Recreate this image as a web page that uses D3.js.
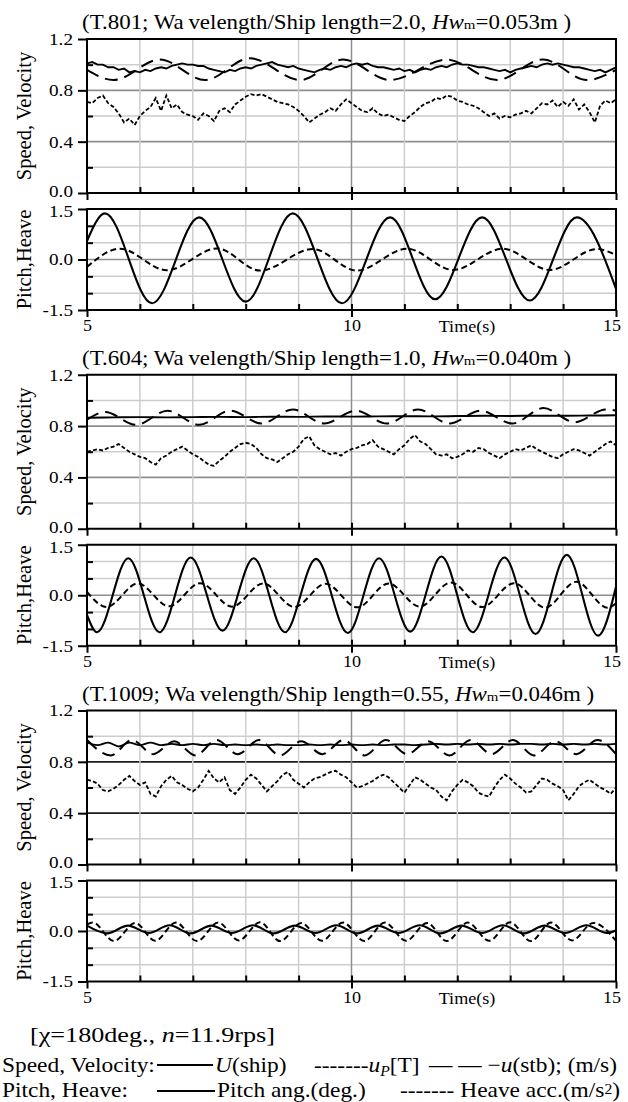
<!DOCTYPE html>
<html>
<head>
<meta charset="utf-8">
<script src="https://cdn.jsdelivr.net/npm/d3@7"></script>
<style>
  html, body { margin: 0; padding: 0; background: #fff; }
  svg { display: block; }
  text { font-family: "Liberation Serif", "Times New Roman", serif; fill: #000; }
</style>
</head>
<body>
<svg id="chart" width="628" height="1102"></svg>
<script>
// ---- Run identifiers shown in the panel headings ----
const titleIds = ["T.801", "T.604", "T.1009"];
const lengthRatios = ["2.0", "1.0", "0.55"];
const waveHeights = ["0.053", "0.040", "0.046"];

// ---- Axis ticks ----
const speedMajorTicks = [0.0, 0.4, 0.8, 1.2];
const speedMinorTicks = [0.2, 0.6, 1.0];
const pitchMajorTicks = [-1.5, 0.0, 1.5];
const pitchMinorTicks = [-1.0, -0.5, 0.5, 1.0];
const timeLabelTicks = [5, 10, 15];
const timeGridTicks = [6, 7, 8, 9, 10, 11, 12, 13, 14];

// ---- T.801 (wavelength/ship length = 2.0) ----
// sampled every 0.1 s from 5 s to 15 s
const t801_uShip = [
  1.01, 1.02, 1.00, 1.00, 0.98, 0.98, 0.96, 0.97, 0.94, 0.95,
  0.94, 0.96, 0.95, 0.97, 0.98, 0.97, 0.99, 1.00, 1.01, 1.00,
  1.00, 0.99, 0.99, 0.97, 0.96, 0.95, 0.94, 0.96, 0.95, 0.97,
  0.98, 0.97, 0.99, 1.00, 1.01, 1.02, 1.00, 0.99, 0.98, 0.99,
  0.97, 0.96, 0.95, 0.94, 0.96, 0.97, 0.96, 0.98, 0.99, 0.98,
  1.00, 1.01, 1.00, 1.01, 0.99, 0.98, 0.98, 0.97, 0.96, 0.97,
  0.95, 0.96, 0.94, 0.96, 0.97, 0.96, 0.98, 0.99, 0.98, 1.00,
  1.01, 1.00, 1.00, 0.99, 0.98, 0.98, 0.97, 0.96, 0.95, 0.96,
  0.94, 0.96, 0.97, 0.98, 0.99, 0.98, 1.00, 1.01, 1.00, 1.01,
  1.00, 0.99, 0.98, 0.98, 0.97, 0.96, 0.95, 0.96, 0.94, 0.96,
  0.98
];
const t801_uP = [
  0.71, 0.70, 0.74, 0.76, 0.70, 0.67, 0.62, 0.55, 0.58, 0.53,
  0.60, 0.64, 0.67, 0.74, 0.64, 0.76, 0.66, 0.69, 0.63, 0.61,
  0.60, 0.57, 0.62, 0.60, 0.56, 0.64, 0.66, 0.63, 0.69, 0.72,
  0.75, 0.77, 0.76, 0.77, 0.75, 0.73, 0.71, 0.70, 0.69, 0.67,
  0.64, 0.60, 0.55, 0.58, 0.61, 0.63, 0.66, 0.64, 0.69, 0.73,
  0.70, 0.67, 0.64, 0.63, 0.66, 0.62, 0.60, 0.61, 0.59, 0.57,
  0.56, 0.60, 0.63, 0.67, 0.70, 0.71, 0.74, 0.73, 0.76, 0.75,
  0.72, 0.71, 0.69, 0.68, 0.66, 0.63, 0.60, 0.62, 0.58, 0.60,
  0.59, 0.61, 0.62, 0.64, 0.62, 0.66, 0.70, 0.69, 0.72, 0.67,
  0.71, 0.68, 0.73, 0.65, 0.69, 0.63, 0.55, 0.68, 0.72, 0.70,
  0.73
];
const t801_uStbT = [5.0, 5.5, 6.38, 7.23, 8.08, 9.03, 9.84, 10.73, 11.8, 12.75, 13.62, 14.45, 15.0];
const t801_uStbV = [0.96, 0.88, 1.04, 0.88, 1.05, 0.88, 1.04, 0.88, 1.04, 0.88, 1.04, 0.88, 0.96];
const t801_pitchT = [5.0, 5.34, 6.23, 7.12, 8.0, 8.89, 9.82, 10.73, 11.58, 12.47, 13.37, 14.26, 15.0];
const t801_pitchV = [0.55, 1.37, -1.30, 1.25, -1.25, 1.37, -1.30, 1.25, -1.18, 1.25, -1.22, 1.25, -0.87];
const t801_heaveT = [5.0, 5.62, 6.51, 7.46, 8.27, 9.27, 10.1, 11.05, 11.92, 12.86, 13.75, 14.64, 15.0];
const t801_heaveV = [-0.22, 0.32, -0.32, 0.33, -0.33, 0.31, -0.33, 0.32, -0.31, 0.32, -0.31, 0.31, 0.13];

// ---- T.604 (wavelength/ship length = 1.0) ----
// ship speed sampled every 0.5 s
const t604_uShip = [
  0.865, 0.868, 0.870, 0.868, 0.870, 0.872, 0.870, 0.873, 0.872, 0.875,
  0.874, 0.876, 0.877, 0.876, 0.878, 0.880, 0.879, 0.881, 0.880, 0.882,
  0.884
];
const t604_uP = [
  0.60, 0.61, 0.62, 0.61, 0.63, 0.64, 0.66, 0.63, 0.60, 0.58,
  0.56, 0.55, 0.52, 0.50, 0.55, 0.57, 0.60, 0.62, 0.64, 0.61,
  0.58, 0.56, 0.53, 0.50, 0.49, 0.53, 0.56, 0.60, 0.63, 0.66,
  0.67, 0.66, 0.63, 0.58, 0.55, 0.54, 0.52, 0.55, 0.58, 0.60,
  0.64, 0.70, 0.72, 0.65, 0.62, 0.60, 0.58, 0.59, 0.57, 0.60,
  0.62, 0.63, 0.65, 0.66, 0.69, 0.64, 0.62, 0.60, 0.58, 0.62,
  0.65, 0.70, 0.73, 0.68, 0.66, 0.62, 0.58, 0.57, 0.58, 0.55,
  0.56, 0.58, 0.61, 0.60, 0.63, 0.62, 0.59, 0.57, 0.55, 0.58,
  0.60, 0.62, 0.61, 0.63, 0.65, 0.62, 0.60, 0.58, 0.56, 0.55,
  0.58, 0.60, 0.62, 0.61, 0.59, 0.57, 0.60, 0.63, 0.66, 0.68,
  0.65
];
const t604_uStbT = [5.0, 5.34, 5.93, 6.52, 7.12, 7.71, 8.30, 8.89, 9.48, 10.08, 10.67, 11.26, 11.85, 12.44, 13.04, 13.63, 14.22, 14.81, 15.0];
const t604_uStbV = [0.85, 0.91, 0.81, 0.92, 0.81, 0.92, 0.82, 0.93, 0.82, 0.92, 0.82, 0.93, 0.82, 0.92, 0.82, 0.94, 0.83, 0.93, 0.92];
const t604_pitchT = [5.0, 5.19, 5.78, 6.37, 6.96, 7.56, 8.15, 8.74, 9.33, 9.93, 10.52, 11.11, 11.70, 12.29, 12.89, 13.48, 14.07, 14.66, 15.0];
const t604_pitchV = [-0.58, -1.10, 1.10, -1.10, 1.12, -1.05, 1.10, -1.10, 1.08, -1.12, 1.10, -1.08, 1.15, -1.10, 1.12, -1.15, 1.20, -1.20, 0.25];
const t604_heaveT = [5.0, 5.37, 5.96, 6.55, 7.14, 7.74, 8.33, 8.92, 9.51, 10.11, 10.70, 11.29, 11.88, 12.47, 13.07, 13.66, 14.25, 14.84, 15.0];
const t604_heaveV = [0.10, -0.35, 0.35, -0.33, 0.36, -0.34, 0.35, -0.35, 0.34, -0.36, 0.35, -0.34, 0.38, -0.35, 0.36, -0.37, 0.40, -0.37, -0.24];

// ---- T.1009 (wavelength/ship length = 0.55) ----
// ship speed sampled every 0.2 s
const t1009_uShip = [
  0.950, 0.930, 0.950, 0.920, 0.950, 0.930, 0.950, 0.930, 0.940, 0.930,
  0.940, 0.930, 0.940, 0.930, 0.935, 0.930, 0.935, 0.930, 0.935, 0.930,
  0.930, 0.935, 0.930, 0.935, 0.930, 0.935, 0.930, 0.935, 0.930, 0.935,
  0.935, 0.930, 0.935, 0.940, 0.935, 0.940, 0.935, 0.940, 0.935, 0.940,
  0.935, 0.940, 0.940, 0.935, 0.940, 0.935, 0.940, 0.935, 0.940, 0.935,
  0.940
];
const t1009_uP = [
  0.66, 0.65, 0.63, 0.58, 0.57, 0.59, 0.62, 0.66, 0.69, 0.65,
  0.62, 0.64, 0.55, 0.53, 0.61, 0.66, 0.69, 0.64, 0.62, 0.59,
  0.57, 0.60, 0.66, 0.73, 0.67, 0.64, 0.68, 0.58, 0.55, 0.60,
  0.66, 0.70, 0.67, 0.62, 0.57, 0.61, 0.65, 0.70, 0.72, 0.66,
  0.63, 0.60, 0.64, 0.67, 0.68, 0.70, 0.72, 0.73, 0.70, 0.68,
  0.64, 0.60, 0.61, 0.63, 0.65, 0.68, 0.70, 0.68, 0.64, 0.60,
  0.56, 0.62, 0.68, 0.66, 0.63, 0.60, 0.58, 0.53, 0.50, 0.57,
  0.62, 0.66, 0.64, 0.61, 0.56, 0.54, 0.53, 0.60, 0.66, 0.70,
  0.67, 0.63, 0.60, 0.56, 0.57, 0.62, 0.67, 0.66, 0.63, 0.61,
  0.58, 0.50, 0.55, 0.61, 0.64, 0.66, 0.63, 0.60, 0.58, 0.55,
  0.60
];
const t1009_uStbT = [5.0, 5.45, 5.85, 6.25, 6.65, 7.05, 7.45, 7.85, 8.25, 8.65, 9.05, 9.45, 9.85, 10.25, 10.65, 11.05, 11.45, 11.85, 12.25, 12.65, 13.05, 13.45, 13.85, 14.25, 14.65, 15.0];
const t1009_uStbV = [0.97, 0.85, 0.97, 0.86, 0.96, 0.85, 0.97, 0.86, 0.97, 0.85, 0.96, 0.86, 0.97, 0.85, 0.97, 0.86, 0.96, 0.85, 0.97, 0.86, 0.97, 0.85, 0.96, 0.86, 0.97, 0.86];
const t1009_pitchT = [5.0, 5.38, 5.775, 6.17, 6.56, 6.96, 7.35, 7.74, 8.14, 8.53, 8.93, 9.32, 9.71, 10.11, 10.50, 10.89, 11.29, 11.68, 12.08, 12.47, 12.86, 13.26, 13.65, 14.04, 14.44, 14.83, 15.0];
const t1009_pitchV = [0.16, -0.07, 0.16, -0.06, 0.17, -0.07, 0.16, -0.06, 0.17, -0.07, 0.16, -0.06, 0.17, -0.07, 0.16, -0.06, 0.17, -0.07, 0.16, -0.06, 0.17, -0.07, 0.16, -0.06, 0.17, -0.06, 0.02];
const t1009_heaveT = [5.0, 5.11, 5.51, 5.91, 6.29, 6.68, 7.08, 7.48, 7.87, 8.27, 8.65, 9.05, 9.44, 9.84, 10.24, 10.63, 11.03, 11.43, 11.8, 12.2, 12.6, 13.0, 13.39, 13.77, 14.17, 14.57, 15.0];
const t1009_heaveV = [0.20, 0.25, -0.30, 0.24, -0.29, 0.25, -0.30, 0.25, -0.28, 0.26, -0.30, 0.24, -0.29, 0.25, -0.30, 0.25, -0.29, 0.24, -0.30, 0.25, -0.29, 0.26, -0.30, 0.25, -0.28, 0.24, -0.29];

// ---- Sample time grids ----
const grid01 = d3.range(101).map(i => 5 + i / 10);
const grid02 = d3.range(51).map(i => 5 + i / 5);
const grid05 = d3.range(21).map(i => 5 + i / 2);
const zip = (ts, vs) => ts.map((t, i) => [t, vs[i]]);

const panels = [
  { uShip: zip(grid01, t801_uShip), uShipCurve: d3.curveLinear, uP: zip(grid01, t801_uP),
    uStb: zip(t801_uStbT, t801_uStbV), pitch: zip(t801_pitchT, t801_pitchV), heave: zip(t801_heaveT, t801_heaveV),
    majorColor: "#8e8e8e" },
  { uShip: zip(grid05, t604_uShip), uShipCurve: d3.curveMonotoneX, uP: zip(grid01, t604_uP),
    uStb: zip(t604_uStbT, t604_uStbV), pitch: zip(t604_pitchT, t604_pitchV), heave: zip(t604_heaveT, t604_heaveV),
    majorColor: "#8e8e8e" },
  { uShip: zip(grid02, t1009_uShip), uShipCurve: d3.curveMonotoneX, uP: zip(grid01, t1009_uP),
    uStb: zip(t1009_uStbT, t1009_uStbV), pitch: zip(t1009_pitchT, t1009_pitchV), heave: zip(t1009_heaveT, t1009_heaveV),
    majorColor: "#1a1a1a" }
];

// ---- Layout ----
const svg = d3.select("#chart");
const X0 = 87, X1 = 616;
const FIRST_TOP = 39, PANEL_STEP = 335.75;
const SPEED_H = 154, GAP = 16, PITCH_H = 101;
const LIGHT = "#cdcdcd";
const TEXT_STRETCH = 1.13;   // the typeface is set slightly wide throughout
const x = d3.scaleLinear().domain([5, 15]).range([X0, X1]);
const fmt = d => d.toFixed(1);

function styleAxis(a, size) {
  a.attr("font-size", size).attr("font-family", null);
  a.select(".domain").remove();
  a.selectAll(".tick line").attr("stroke", "#000").attr("stroke-width", 2);
  a.selectAll(".tick text").each(function () {
    const t = d3.select(this);
    const x0 = +t.attr("x") || 0;
    t.attr("x", x0 / TEXT_STRETCH).attr("transform", `scale(${TEXT_STRETCH},1)`);
  });
}

function drawGrid(g, y, minor, major, majorColor) {
  g.append("g").selectAll("line").data(minor).join("line")
    .attr("x1", X0).attr("x2", X1).attr("y1", d => y(d)).attr("y2", d => y(d))
    .attr("stroke", LIGHT).attr("stroke-width", 1.5);
  g.append("g").selectAll("line").data(major).join("line")
    .attr("x1", X0).attr("x2", X1).attr("y1", d => y(d)).attr("y2", d => y(d))
    .attr("stroke", majorColor).attr("stroke-width", 1.6);
  const [yb, yt] = y.range();
  g.append("g").selectAll("line").data(timeGridTicks).join("line")
    .attr("x1", d => x(d)).attr("x2", d => x(d)).attr("y1", yt).attr("y2", yb)
    .attr("stroke", d => d === 10 ? "#8e8e8e" : LIGHT).attr("stroke-width", 1.5);
}

// edgeShift nudges the labels at the ends of a panel apart from the neighbouring panel
function drawTicks(g, y, major, minor, labelled, edgeShift) {
  const [yb] = y.range();
  const left = g.append("g").attr("transform", `translate(${X0},0)`)
    .call(d3.axisLeft(y).tickValues(major).tickSize(9).tickPadding(5).tickFormat(fmt))
    .call(a => styleAxis(a, 17));
  left.selectAll(".tick text").attr("y", d => edgeShift(d));
  g.append("g").attr("transform", `translate(${X0},0)`)
    .call(d3.axisRight(y).tickValues(minor).tickSize(6).tickFormat(""))
    .call(a => styleAxis(a, 10));
  g.append("g").attr("transform", `translate(0,${yb})`)
    .call(d3.axisTop(x).tickValues(timeGridTicks).tickSize(6).tickFormat(""))
    .call(a => styleAxis(a, 10));
  const bottom = g.append("g").attr("transform", `translate(0,${yb})`)
    .call(d3.axisBottom(x).tickValues(timeLabelTicks).tickSize(7).tickPadding(3)
      .tickFormat(labelled ? d3.format("d") : ""))
    .call(a => styleAxis(a, 16));
  bottom.selectAll(".tick text").attr("dx", d => d === 15 ? -4 : 0);
}

const titleTexts = [];

panels.forEach((p, i) => {
  const top = FIRST_TOP + i * PANEL_STEP;
  const g = svg.append("g");
  const yS = d3.scaleLinear().domain([0, 1.2]).range([top + SPEED_H, top]);
  const pTop = top + SPEED_H + GAP;
  const yP = d3.scaleLinear().domain([-1.5, 1.5]).range([pTop + PITCH_H, pTop]);

  // heading
  const t = g.append("text").attr("font-size", 20);
  t.append("tspan").text(`(${titleIds[i]}; Wa`);
  t.append("tspan").attr("dx", 4).text(`velength/Ship length=${lengthRatios[i]}, `);
  t.append("tspan").attr("font-style", "italic").text("Hw");
  t.append("tspan").attr("font-size", 13).text("m");
  t.append("tspan").text(`=${waveHeights[i]}m )`);
  titleTexts.push({ sel: t, y: top - 10 });

  // clip regions
  svg.append("clipPath").attr("id", `clipS${i}`).append("rect")
    .attr("x", X0).attr("y", top).attr("width", X1 - X0).attr("height", SPEED_H);
  svg.append("clipPath").attr("id", `clipP${i}`).append("rect")
    .attr("x", X0).attr("y", pTop).attr("width", X1 - X0).attr("height", PITCH_H);

  drawGrid(g, yS, speedMinorTicks, [0.4, 0.8], p.majorColor);
  drawGrid(g, yP, pitchMinorTicks, [0.0], "#8e8e8e");

  // speed / velocity series
  const lineS = c => d3.line().x(d => x(d[0])).y(d => yS(d[1])).curve(c);
  const gs = g.append("g").attr("clip-path", `url(#clipS${i})`).attr("fill", "none").attr("stroke", "#000");
  gs.append("path").attr("d", lineS(d3.curveLinear)(p.uP))
    .attr("stroke-width", 1.8).attr("stroke-dasharray", "4,2.2");
  gs.append("path").attr("d", lineS(d3.curveMonotoneX)(p.uStb))
    .attr("stroke-width", 2).attr("stroke-dasharray", "13,7");
  gs.append("path").attr("d", lineS(p.uShipCurve)(p.uShip))
    .attr("stroke-width", 1.9);

  // pitch / heave series
  const lineP = d3.line().x(d => x(d[0])).y(d => yP(d[1])).curve(d3.curveMonotoneX);
  const gp = g.append("g").attr("clip-path", `url(#clipP${i})`).attr("fill", "none").attr("stroke", "#000");
  gp.append("path").attr("d", lineP(p.heave)).attr("stroke-width", 2).attr("stroke-dasharray", "6,3.5");
  gp.append("path").attr("d", lineP(p.pitch)).attr("stroke-width", 2.1);

  // frames
  [[top, SPEED_H], [pTop, PITCH_H]].forEach(([yy, hh]) => {
    g.append("rect").attr("x", X0).attr("y", yy).attr("width", X1 - X0).attr("height", hh)
      .attr("fill", "none").attr("stroke", "#000").attr("stroke-width", 2);
  });

  drawTicks(g, yS, speedMajorTicks, speedMinorTicks, false, d => d === 0 ? -2 : 0);
  drawTicks(g, yP, pitchMajorTicks, pitchMinorTicks, true, d => d === 1.5 ? 2 : 0);

  g.append("text").attr("font-size", 16).attr("text-anchor", "middle")
    .attr("transform", `translate(467,${pTop + PITCH_H + 22}) scale(${TEXT_STRETCH},1)`).text("Time(s)");

  g.append("text").attr("font-size", 20.5).attr("text-anchor", "middle")
    .attr("transform", `translate(31,${top + SPEED_H / 2}) rotate(-90)`).text("Speed, Velocity");
  g.append("text").attr("font-size", 20.5).attr("text-anchor", "middle")
    .attr("transform", `translate(31,${pTop + PITCH_H / 2}) rotate(-90)`).text("Pitch,Heave");
});

// headings share one horizontal stretch
const kTitle = 485 / titleTexts[0].sel.node().getComputedTextLength();
titleTexts.forEach(o => o.sel.attr("transform", `translate(82,${o.y}) scale(${kTitle},1)`));

// ---- Legend ----
const lg = svg.append("g");
const cond = lg.append("text").attr("font-size", 22);
cond.append("tspan").text("[χ=180deg., ");
cond.append("tspan").attr("font-style", "italic").text("n");
cond.append("tspan").text("=11.9rps]");
const kCond = 245 / cond.node().getComputedTextLength();
cond.attr("transform", `translate(30,1042) scale(${kCond},1)`);

const LF = 21;
const rowY1 = 1072, rowY2 = 1097;
const sv = lg.append("text").attr("font-size", LF).text("Speed, Velocity:");
const kL = 153 / sv.node().getComputedTextLength();
const place = (sel, xx, yy) => sel.attr("transform", `translate(${xx},${yy}) scale(${kL},1)`);
place(sv, 2, rowY1);

lg.append("line").attr("x1", 157).attr("x2", 213).attr("y1", rowY1 - 7).attr("y2", rowY1 - 7)
  .attr("stroke", "#000").attr("stroke-width", 1.8);
const us = lg.append("text").attr("font-size", LF);
us.append("tspan").attr("font-style", "italic").text("U");
us.append("tspan").text("(ship)");
place(us, 215, rowY1);

const up = lg.append("text").attr("font-size", LF);
up.append("tspan").text("-------");
up.append("tspan").attr("font-style", "italic").text("u");
up.append("tspan").attr("font-style", "italic").attr("font-size", 14).attr("dy", 4).text("P");
up.append("tspan").attr("dy", -4).text("[T]");
place(up, 314, rowY1);

const ust = lg.append("text").attr("font-size", LF).attr("text-anchor", "end");
ust.append("tspan").text("— — −");
ust.append("tspan").attr("font-style", "italic").text("u");
ust.append("tspan").text("(stb); (m/s)");
place(ust, 617, rowY1);

const ph = lg.append("text").attr("font-size", LF).text("Pitch, Heave:");
place(ph, 2, rowY2);
lg.append("line").attr("x1", 157).attr("x2", 215).attr("y1", rowY2 - 6).attr("y2", rowY2 - 6)
  .attr("stroke", "#000").attr("stroke-width", 1.8);
const pa = lg.append("text").attr("font-size", LF).text("Pitch ang.(deg.)");
place(pa, 217, rowY2);
const ha = lg.append("text").attr("font-size", LF).attr("text-anchor", "end");
ha.append("tspan").text("------- Heave acc.(m/s");
ha.append("tspan").attr("font-size", 14).attr("dy", -3).text("2");
ha.append("tspan").attr("dy", 3).text(")");
place(ha, 620, rowY2);
</script>
</body>
</html>
